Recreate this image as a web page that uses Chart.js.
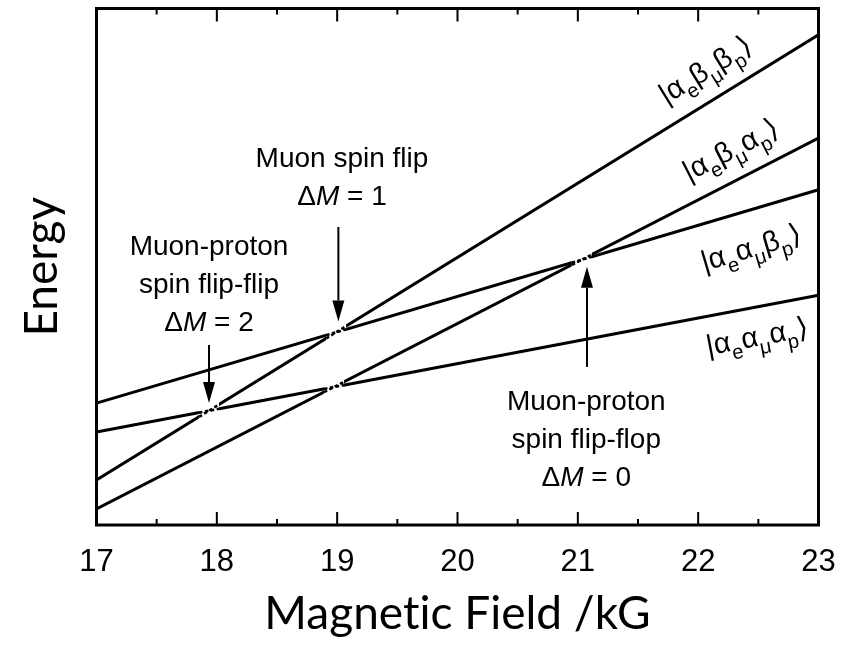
<!DOCTYPE html>
<html>
<head>
<meta charset="utf-8">
<script src="https://cdn.jsdelivr.net/npm/chart.js@4.4.0/dist/chart.umd.min.js"></script>
<style>
  html, body { margin: 0; padding: 0; background: #fff; }
</style>
</head>
<body>
<canvas id="levels" width="859" height="645"></canvas>
<script>
// field axis (kG)
var field = [17, 23];
var fieldTicks = [17, 18, 19, 20, 21, 22, 23];

// level energies (arb. units) at both ends of the field range
var eBmBp = [8.7, 94.9];
var eBmAp = [3.1, 74.9];
var eAmBp = [23.6, 64.9];
var eAmAp = [18.0, 44.5];

var levelNames = ["|α_eβ_μβ_p⟩", "|α_eβ_μα_p⟩", "|α_eα_μβ_p⟩", "|α_eα_μα_p⟩"];

// dataset index pairs that cross inside the window
var crossings = [[0, 3], [0, 2], [1, 3], [1, 2]];

// level labels: [dataset, field, energy]
var levelLabelPos = [[0, 22.06, 88.1], [1, 22.27, 72.6], [2, 22.44, 53.6], [3, 22.49, 36.4]];

// arrows: [field, energy of tail, energy of tip]
var arrows = [[19.01, 57.7, 39.4], [17.935, 34.85, 23.6], [21.076, 30.6, 50.0]];

// text blocks: [field, energy of first baseline, lines]
var notes = [
  [19.04, 69.3, ["Muon spin flip", "Δ*M* = 1"]],
  [17.935, 52.3, ["Muon-proton", "spin flip-flip", "Δ*M* = 2"]],
  [21.07, 22.3, ["Muon-proton", "spin flip-flop", "Δ*M* = 0"]]
];

var TEXT_FONT = "'Liberation Sans', Arial, 'DejaVu Sans', sans-serif";

// "_x" = subscript x, "*" toggles italics
function parseRuns(str) {
  var runs = [], italic = false;
  for (var i = 0; i < str.length; i++) {
    var c = str[i];
    if (c === "*") { italic = !italic; continue; }
    if (c === "_") { runs.push({ t: str[i + 1], sub: true, it: italic }); i++; continue; }
    runs.push({ t: c, sub: false, it: italic });
  }
  return runs;
}

function drawRuns(ctx, str, x, y, size) {
  var runs = parseRuns(str), w = 0;
  runs.forEach(function (r) {
    r.size = r.sub ? size * 0.7 : size;
    r.font = (r.it ? "italic " : "") + r.size + "px " + TEXT_FONT;
    ctx.font = r.font;
    r.w = ctx.measureText(r.t).width;
    w += r.w;
  });
  var cx = x - w / 2;
  ctx.textAlign = "left";
  ctx.textBaseline = "alphabetic";
  runs.forEach(function (r) {
    ctx.font = r.font;
    ctx.fillText(r.t, cx, y + (r.sub ? size * 0.3 : 0));
    cx += r.w;
  });
}

function lineY(p, x) {
  return p[0].y + (p[1].y - p[0].y) * (x - p[0].x) / (p[1].x - p[0].x);
}

var levelPlugin = {
  id: "levelPlugin",
  afterDatasetsDraw: function (chart) {
    var ctx = chart.ctx, area = chart.chartArea;
    var xs = chart.scales.x, ys = chart.scales.y;
    ctx.save();

    // broken lines at the crossings
    crossings.forEach(function (pair) {
      var a = chart.getDatasetMeta(pair[0]).data, b = chart.getDatasetMeta(pair[1]).data;
      var ka = (a[1].y - a[0].y) / (a[1].x - a[0].x);
      var kb = (b[1].y - b[0].y) / (b[1].x - b[0].x);
      var cx = (b[0].y - a[0].y + ka * a[0].x - kb * b[0].x) / (ka - kb);
      var cy = lineY(a, cx);
      var g = 10, h = g * Math.max(Math.abs(ka), Math.abs(kb)) + 3;
      ctx.fillStyle = "#fff";
      ctx.fillRect(cx - g, cy - h, 2 * g, 2 * h);
      ctx.strokeStyle = "#000";
      ctx.lineWidth = 2.6;
      ctx.setLineDash([3.5, 2.5]);
      ctx.lineDashOffset = 0;
      [a, b].forEach(function (p) {
        ctx.beginPath();
        ctx.moveTo(cx - g, lineY(p, cx - g));
        ctx.lineTo(cx + g, lineY(p, cx + g));
        ctx.stroke();
      });
      ctx.setLineDash([]);
    });

    // frame with inward ticks on top and bottom
    ctx.strokeStyle = "#000";
    ctx.lineWidth = 3;
    ctx.strokeRect(area.left, area.top, area.right - area.left, area.bottom - area.top);
    ctx.lineWidth = 2;
    for (var v = xs.min; v <= xs.max + 1e-9; v += 0.5) {
      var px = xs.getPixelForValue(v);
      var len = Math.abs(v - Math.round(v)) < 1e-6 ? 13 : 6;
      ctx.beginPath();
      ctx.moveTo(px, area.bottom);
      ctx.lineTo(px, area.bottom - len);
      ctx.moveTo(px, area.top);
      ctx.lineTo(px, area.top + len);
      ctx.stroke();
    }

    // level labels, tilted along their lines
    ctx.fillStyle = "#000";
    levelLabelPos.forEach(function (l) {
      var p = chart.getDatasetMeta(l[0]).data;
      var ang = Math.atan2(p[1].y - p[0].y, p[1].x - p[0].x);
      ctx.save();
      ctx.translate(xs.getPixelForValue(l[1]), ys.getPixelForValue(l[2]));
      ctx.rotate(ang);
      drawRuns(ctx, levelNames[l[0]], 0, 9, 29);
      ctx.restore();
    });

    // arrows
    arrows.forEach(function (a) {
      var x = xs.getPixelForValue(a[0]);
      var y0 = ys.getPixelForValue(a[1]), y1 = ys.getPixelForValue(a[2]);
      var dir = y1 > y0 ? 1 : -1, head = 21;
      ctx.lineWidth = 2;
      ctx.beginPath();
      ctx.moveTo(x, y0);
      ctx.lineTo(x, y1 - dir * head);
      ctx.stroke();
      ctx.beginPath();
      ctx.moveTo(x, y1);
      ctx.lineTo(x - 6, y1 - dir * head);
      ctx.lineTo(x + 6, y1 - dir * head);
      ctx.closePath();
      ctx.fill();
    });

    // annotation text
    notes.forEach(function (n) {
      var x = xs.getPixelForValue(n[0]);
      var y = ys.getPixelForValue(n[1]);
      n[2].forEach(function (s, i) {
        drawRuns(ctx, s, x, y + i * 38, 28);
      });
    });

    ctx.restore();
  }
};

function levelSet(values) {
  return {
    data: values.map(function (v, i) { return { x: field[i], y: v }; }),
    borderColor: "#000",
    borderWidth: 3,
    pointRadius: 0,
    tension: 0,
    fill: false
  };
}

var ctx = document.getElementById("levels").getContext("2d");
var levels = new Chart(ctx, {
  type: "line",
  data: {
    datasets: [levelSet(eBmBp), levelSet(eBmAp), levelSet(eAmBp), levelSet(eAmAp)]
  },
  plugins: [levelPlugin],
  options: {
    responsive: false,
    animation: false,
    devicePixelRatio: 1,
    layout: { padding: { top: 8.5, right: 40.5, left: 0, bottom: 0 } },
    plugins: { legend: { display: false }, tooltip: { enabled: false } },
    scales: {
      x: {
        type: "linear",
        min: 17,
        max: 23,
        afterBuildTicks: function (s) { s.ticks = fieldTicks.map(function (v) { return { value: v }; }); },
        afterFit: function (s) { s.height = 120; },
        grid: { display: false, drawTicks: false },
        border: { display: false },
        ticks: { color: "#000", padding: 19, font: { family: TEXT_FONT, size: 31 } },
        title: {
          display: true,
          // ZWNJ keeps Lato from joining "ti"
          text: "Magnet\u200Cic Field /kG",
          color: "#000",
          font: { family: "Lato", size: 46 },
          padding: { top: 0, bottom: 3 }
        }
      },
      y: {
        min: 0,
        max: 100,
        afterFit: function (s) { s.width = 96.5; },
        grid: { display: false, drawTicks: false },
        border: { display: false },
        ticks: { display: false },
        title: {
          display: true,
          text: "Energy",
          color: "#000",
          font: { family: "Lato", size: 46 },
          padding: 15
        }
      }
    }
  }
});
</script>
</body>
</html>
